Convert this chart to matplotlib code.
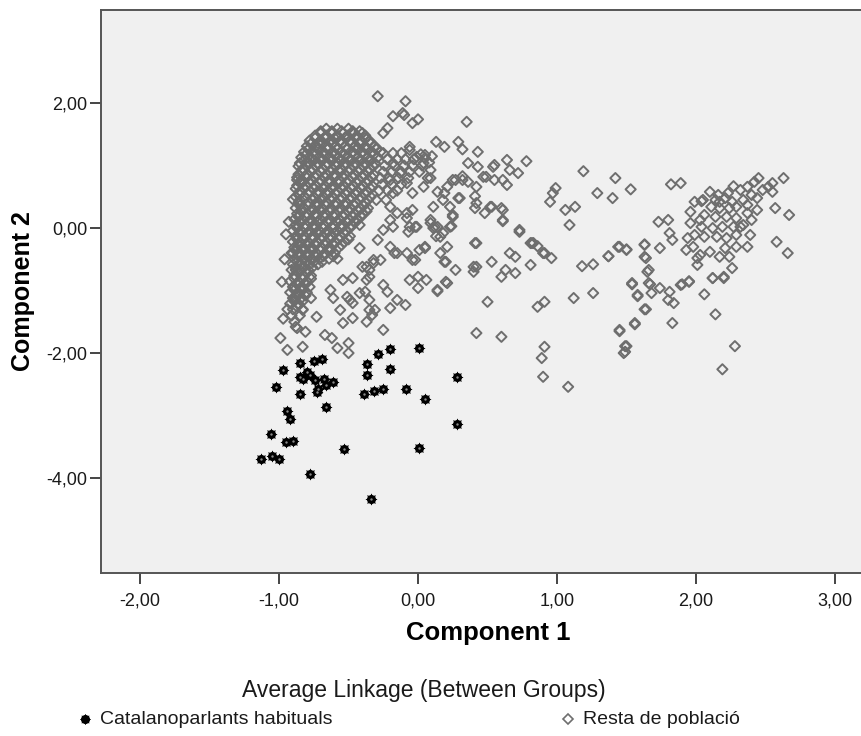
import matplotlib
matplotlib.use("Agg")
import matplotlib.pyplot as plt
from matplotlib.lines import Line2D
from matplotlib.ticker import FuncFormatter, FixedLocator

# cluster 1: habitual Catalan speakers (component 1, component 2)
catalan = [
    (-0.97, -2.27), (-1.02, -2.55), (-0.85, -2.16), (-0.85, -2.38), (-0.85, -2.66),
    (-0.80, -2.31), (-0.75, -2.12), (-0.69, -2.09), (-0.74, -2.43), (-0.68, -2.41),
    (-0.73, -2.62), (-0.66, -2.51), (-0.61, -2.47), (-0.66, -2.87), (-0.94, -2.93),
    (-0.92, -3.06), (-1.06, -3.29), (-0.95, -3.43), (-0.90, -3.41), (-1.13, -3.69),
    (-1.05, -3.64), (-1.00, -3.70), (-0.78, -3.94), (-0.53, -3.54), (-0.34, -4.33),
    (-0.37, -2.18), (-0.37, -2.35), (-0.29, -2.01), (-0.20, -1.93), (-0.20, -2.26),
    (-0.39, -2.66), (-0.32, -2.60), (-0.25, -2.58), (-0.09, -2.57), (0.01, -1.92),
    (0.05, -2.74), (0.28, -2.38), (0.28, -3.14), (0.01, -3.52), (-0.83, -2.41),
    (-0.72, -2.57), (-0.78, -2.35),
]

# cluster 2, dense core: rows of (component 2, [component 1 values])
core_rows = [
    (1.59, [-0.66, -0.58, -0.50]),
    (1.55, [-0.70, -0.62, -0.55, -0.47, -0.42]),
    (1.52, [-0.70, -0.62, -0.54, -0.47, -0.40]),
    (1.48, [-0.74, -0.66, -0.58, -0.51, -0.44, -0.38]),
    (1.44, [-0.74, -0.67, -0.60, -0.52, -0.45, -0.38]),
    (1.40, [-0.78, -0.70, -0.63, -0.56, -0.49, -0.41, -0.35]),
    (1.35, [-0.77, -0.69, -0.62, -0.55, -0.48, -0.42, -0.34]),
    (1.31, [-0.80, -0.73, -0.65, -0.59, -0.52, -0.45, -0.38, -0.31]),
    (1.26, [-0.79, -0.72, -0.65, -0.58, -0.51, -0.44, -0.37, -0.30]),
    (1.22, [-0.82, -0.75, -0.68, -0.61, -0.55, -0.47, -0.40, -0.33, -0.27]),
    (1.17, [-0.81, -0.74, -0.67, -0.60, -0.53, -0.46, -0.39, -0.32]),
    (1.13, [-0.84, -0.77, -0.70, -0.63, -0.57, -0.50, -0.43, -0.36, -0.29]),
    (1.08, [-0.82, -0.75, -0.69, -0.62, -0.55, -0.48, -0.41, -0.34]),
    (1.04, [-0.85, -0.79, -0.72, -0.65, -0.58, -0.52, -0.45, -0.38, -0.31]),
    (0.99, [-0.86, -0.80, -0.73, -0.66, -0.59, -0.53, -0.46, -0.39, -0.32]),
    (0.95, [-0.83, -0.76, -0.69, -0.62, -0.56, -0.49, -0.42, -0.35]),
    (0.90, [-0.83, -0.77, -0.70, -0.63, -0.56, -0.50, -0.43, -0.36]),
    (0.86, [-0.86, -0.80, -0.73, -0.66, -0.60, -0.53, -0.46, -0.39, -0.32]),
    (0.81, [-0.87, -0.80, -0.74, -0.67, -0.60, -0.54, -0.47, -0.40, -0.33]),
    (0.77, [-0.84, -0.77, -0.70, -0.64, -0.57, -0.50, -0.43, -0.36]),
    (0.72, [-0.84, -0.78, -0.71, -0.64, -0.57, -0.51, -0.44, -0.37]),
    (0.68, [-0.87, -0.81, -0.74, -0.67, -0.61, -0.54, -0.47, -0.40, -0.33]),
    (0.63, [-0.88, -0.82, -0.75, -0.68, -0.62, -0.55, -0.48, -0.41, -0.34]),
    (0.59, [-0.85, -0.78, -0.72, -0.65, -0.58, -0.51, -0.44, -0.37]),
    (0.54, [-0.85, -0.79, -0.72, -0.65, -0.59, -0.52, -0.45, -0.38]),
    (0.50, [-0.88, -0.82, -0.75, -0.68, -0.62, -0.55, -0.48, -0.41, -0.34]),
    (0.45, [-0.85, -0.76, -0.70, -0.63, -0.56, -0.49, -0.42, -0.36]),
    (0.41, [-0.86, -0.79, -0.73, -0.66, -0.59, -0.52, -0.45, -0.38]),
    (0.36, [-0.85, -0.79, -0.72, -0.66, -0.59, -0.52, -0.46, -0.39]),
    (0.32, [-0.88, -0.82, -0.76, -0.69, -0.63, -0.56, -0.49, -0.42, -0.36]),
    (0.27, [-0.84, -0.77, -0.70, -0.64, -0.57, -0.50, -0.43, -0.37]),
    (0.23, [-0.87, -0.80, -0.74, -0.67, -0.60, -0.53, -0.46, -0.40]),
    (0.18, [-0.86, -0.80, -0.73, -0.67, -0.60, -0.54, -0.47, -0.41]),
    (0.14, [-0.89, -0.83, -0.77, -0.70, -0.64, -0.57, -0.50, -0.44]),
    (0.09, [-0.85, -0.78, -0.72, -0.65, -0.58, -0.51, -0.45]),
    (0.05, [-0.88, -0.81, -0.75, -0.68, -0.61, -0.55, -0.48, -0.42]),
    (0.00, [-0.87, -0.81, -0.74, -0.68, -0.61, -0.55, -0.49]),
    (-0.04, [-0.90, -0.84, -0.78, -0.71, -0.65, -0.58, -0.52]),
    (-0.09, [-0.85, -0.79, -0.72, -0.66, -0.60, -0.53]),
    (-0.13, [-0.88, -0.82, -0.76, -0.69, -0.63, -0.56, -0.49]),
    (-0.18, [-0.87, -0.82, -0.76, -0.70, -0.63, -0.57, -0.50]),
    (-0.22, [-0.90, -0.85, -0.79, -0.73, -0.66, -0.60, -0.53]),
    (-0.27, [-0.86, -0.80, -0.74, -0.67, -0.61, -0.55]),
    (-0.31, [-0.89, -0.83, -0.77, -0.70, -0.64, -0.57]),
    (-0.36, [-0.88, -0.82, -0.76, -0.70, -0.63]),
    (-0.40, [-0.91, -0.85, -0.79, -0.73, -0.67, -0.60]),
    (-0.45, [-0.86, -0.80, -0.74, -0.68, -0.61]),
    (-0.49, [-0.89, -0.83, -0.77, -0.71, -0.64, -0.58]),
    (-0.54, [-0.87, -0.81, -0.75, -0.69]),
    (-0.58, [-0.90, -0.84, -0.78, -0.72]),
    (-0.63, [-0.88, -0.82, -0.76]),
    (-0.67, [-0.91, -0.85, -0.79]),
    (-0.72, [-0.86, -0.80]),
    (-0.76, [-0.89, -0.83, -0.77]),
    (-0.81, [-0.89, -0.83, -0.77]),
    (-0.85, [-0.92, -0.86, -0.80]),
    (-0.90, [-0.87, -0.81]),
    (-0.94, [-0.90, -0.84, -0.78]),
    (-0.99, [-0.89, -0.83]),
    (-1.03, [-0.92, -0.86, -0.80]),
    (-1.08, [-0.87, -0.81]),
    (-1.12, [-0.90, -0.84, -0.77]),
    (-1.17, [-0.89, -0.83]),
    (-1.21, [-0.92, -0.86]),
    (-1.26, [-0.87]),
    (-1.30, [-0.90, -0.83]),
    (-1.40, [-0.91, -0.85]),
    (-1.50, [-0.89]),
    (-1.60, [-0.87]),
    # spur to the right of the core
    (1.20, [-0.25, -0.18, -0.12]),
    (1.10, [-0.22, -0.15, -0.09, -0.03]),
    (1.00, [-0.24, -0.17, -0.10, -0.04, 0.03]),
    (0.90, [-0.25, -0.19, -0.12, -0.06, 0.01]),
    (0.80, [-0.27, -0.21, -0.14, -0.07]),
    (0.70, [-0.26, -0.19, -0.12]),
    (0.60, [-0.28, -0.22, -0.15]),
    (0.45, [-0.30, -0.23]),
]

# cluster 2, scattered points
rest = [
    # top
    (-0.29, 2.11), (-0.09, 2.03), (-0.18, 1.79), (-0.11, 1.84), (-0.04, 1.68),
    (0.00, 1.74), (-0.10, 1.81), (-0.22, 1.60), (-0.25, 1.52), (0.35, 1.70),
    (0.13, 1.38), (0.19, 1.30), (0.29, 1.38), (0.32, 1.26), (0.43, 1.22),
    (0.36, 1.04), (0.43, 0.98), (0.55, 1.01), (0.64, 1.09), (0.78, 1.07),
    (0.66, 0.93), (0.72, 0.88), (0.49, 0.82), (0.55, 0.77), (0.64, 0.69),
    (-0.06, 1.30), (0.05, 1.17), (0.05, 1.12), (0.08, 1.05), (0.10, 1.15),
    (0.02, 1.18), (-0.72, 1.36), (-0.79, 1.06), (-0.83, 0.74), (-0.87, 0.77),
    (-0.90, 0.46),
    # middle
    (-0.06, 1.25), (-0.01, 1.14), (0.04, 1.04), (0.09, 0.93), (0.07, 0.80),
    (0.04, 0.66), (-0.04, 0.56), (-0.08, 0.72), (-0.13, 0.88), (-0.18, 1.04),
    (-0.20, 0.77), (-0.18, 0.56), (-0.20, 0.34), (-0.15, 0.24), (-0.08, 0.24),
    (-0.06, 0.02), (-0.20, 0.13), (-0.25, -0.03), (-0.29, -0.19), (-0.20, -0.30),
    (-0.15, -0.40), (-0.08, -0.40), (-0.04, -0.51), (0.01, -0.35), (0.09, 0.08),
    (0.12, 0.02), (0.23, 0.02), (0.16, -0.14), (0.21, -0.30), (0.25, 0.18),
    (0.23, 0.34), (0.18, 0.45), (0.14, 0.58), (0.27, 0.77), (0.30, 0.48),
    (0.32, 0.77), (0.42, 0.66), (0.47, 0.82), (0.54, 0.98), (0.61, 0.77),
    (0.42, 0.40), (0.52, 0.34), (0.61, 0.29), (0.61, 0.13), (0.73, -0.03),
    (0.83, -0.24), (0.90, -0.40), (0.42, -0.24), (0.40, -0.62), (0.50, -1.18),
    (0.86, -1.26), (0.09, 0.80), (0.41, 0.32), (0.41, 0.51), (0.29, 0.48),
    (0.25, 0.77), (0.32, 0.83), (0.36, 0.74), (0.21, 0.66), (0.19, 0.56),
    (0.11, 0.34), (0.25, 0.21), (-0.04, 0.29), (-0.08, 0.16), (-0.02, 0.02),
    (0.09, 0.13), (0.14, 0.02), (0.05, -0.30), (0.82, -0.24), (0.61, 0.11),
    (0.60, 0.32), (0.53, 0.34), (0.48, 0.24),
    # between 0.9 and 1.7
    (0.99, 0.64), (0.97, 0.56), (0.95, 0.42), (1.06, 0.29), (1.13, 0.34),
    (1.09, 0.05), (1.19, 0.91), (1.29, 0.56), (1.42, 0.80), (1.53, 0.62),
    (1.40, 0.48), (1.44, -0.30),
    (0.13, -0.13), (0.16, -0.40), (0.20, -0.54), (0.27, -0.67), (0.21, -0.88),
    (0.14, -1.01), (0.41, -0.24), (0.40, -0.70), (0.42, -0.62), (0.53, -0.54),
    (0.66, -0.40), (0.70, -0.46), (0.63, -0.67), (0.60, -0.78), (0.70, -0.72),
    (0.81, -0.59), (0.81, -0.24), (0.86, -0.29), (0.91, -0.40), (0.96, -0.48),
    (0.73, -0.06), (0.91, -1.18), (1.12, -1.12), (1.26, -1.04), (1.18, -0.61),
    (1.26, -0.58), (1.37, -0.45), (1.45, -0.30), (1.50, -0.35), (0.42, -1.68),
    (0.60, -1.74), (0.91, -1.90), (0.89, -2.08), (0.90, -2.38), (1.08, -2.54),
    (1.45, -1.63), (1.56, -1.54), (1.49, -1.89), (1.49, -1.98), (1.54, -0.88),
    (1.58, -1.07), (1.63, -1.30), (1.63, -0.26), (1.64, -0.48), (1.65, -0.70),
    # lower left of the core
    (-0.98, -0.86), (-0.90, -0.40), (-0.88, -0.67), (-0.88, -1.10), (-0.99, -1.76),
    (-0.94, -1.95), (-0.83, -1.90), (-0.88, -1.58), (-0.81, -1.66), (-0.83, -1.31),
    (-0.73, -1.42), (-0.67, -1.71), (-0.62, -1.76), (-0.58, -1.92), (-0.50, -1.84),
    (-0.50, -2.00), (-0.54, -1.52), (-0.47, -1.44), (-0.37, -1.50), (-0.33, -1.39),
    (-0.31, -1.31), (-0.25, -1.63), (-0.38, -1.02), (-0.47, -1.20), (-0.51, -1.10),
    (-0.61, -1.12), (-0.63, -0.99), (-0.54, -0.83), (-0.47, -0.80), (-0.40, -0.62),
    (-0.35, -0.78), (-0.32, -0.56), (-0.27, -0.51), (-0.25, -0.91), (-0.22, -1.02),
    (-0.15, -1.15), (-0.09, -1.23), (-0.20, -1.28), (-0.35, -1.15), (-0.06, -0.83),
    (0.00, -0.78), (0.06, -0.83), (0.00, -0.96), (0.14, -0.99), (0.20, -0.86),
    (0.19, -0.54), (0.05, -0.32), (-0.02, -0.51), (-0.17, -0.40), (-0.18, 0.02),
    (-0.07, -0.06), (-0.01, 0.02), (0.11, 0.00), (0.18, -0.08), (0.24, 0.03),
    (-0.42, -0.32), (-0.35, -0.67), (-0.37, -0.62), (-0.32, -0.51), (-0.37, -0.83),
    (-0.42, -1.04), (-0.49, -1.15), (-0.56, -1.31), (-0.35, -1.31), (-0.95, -0.10),
    (-0.93, 0.10), (-0.96, -0.50), (-0.94, -1.30), (-0.97, -1.45),
    # right-hand group
    (1.82, 0.70), (1.89, 0.72), (2.45, 0.80), (2.63, 0.80), (2.55, 0.72),
    (2.55, 0.58), (2.27, 0.67), (2.57, 0.32), (2.67, 0.21), (2.58, -0.22),
    (2.66, -0.40), (1.99, 0.42), (2.04, 0.43), (1.73, 0.10), (1.80, 0.13),
    (1.81, -0.08), (1.83, -0.19), (1.96, 0.08), (1.94, -0.16), (1.93, -0.35),
    (2.01, -0.59), (2.26, -0.64), (2.12, -0.80), (2.20, -0.78), (1.63, -0.27),
    (1.74, -0.32), (1.63, -0.46), (1.66, -0.67), (1.50, -0.34), (1.37, -0.45),
    (1.54, -0.90), (1.67, -0.90), (1.90, -0.90), (1.95, -0.86),
    (2.10, 0.58), (2.16, 0.53), (2.21, 0.48), (2.32, 0.61), (2.37, 0.66),
    (2.40, 0.53), (2.44, 0.48), (2.34, 0.45), (2.29, 0.34), (2.24, 0.32),
    (2.17, 0.32), (2.11, 0.34), (2.06, 0.21), (2.14, 0.18), (2.22, 0.18),
    (2.29, 0.16), (2.37, 0.24), (2.44, 0.29), (2.40, 0.13), (2.34, 0.05),
    (2.27, 0.02), (2.19, 0.02), (2.12, 0.00), (2.04, 0.02), (1.99, -0.11),
    (2.06, -0.14), (2.15, -0.14), (2.22, -0.16), (2.29, -0.11), (2.39, -0.11),
    (2.37, -0.30), (2.29, -0.30), (2.21, -0.32), (2.10, -0.38), (2.03, -0.43),
    (1.98, -0.30), (2.24, -0.46), (2.17, -0.46), (2.01, -0.48), (2.32, 0.02),
    (2.26, 0.42), (2.17, 0.42), (2.37, 0.37), (2.48, 0.61), (2.42, 0.74),
    (2.52, 0.66), (2.23, 0.56), (2.14, 0.45), (2.05, 0.45), (1.96, 0.26),
    (2.03, 0.13),
    (1.66, -0.88), (1.58, -1.09), (1.68, -1.04), (1.74, -0.96), (1.81, -1.02),
    (1.80, -1.15), (1.84, -1.20), (1.64, -1.30), (1.56, -1.52), (1.45, -1.65),
    (1.50, -1.89), (1.48, -2.00), (1.83, -1.52), (1.89, -0.91), (1.95, -0.85),
    (2.06, -1.06), (2.14, -1.38), (2.12, -0.80), (2.20, -0.80), (2.28, -1.89),
    (2.19, -2.26),
]

rest_x = [x for y, xs in core_rows for x in xs] + [p[0] for p in rest]
rest_y = [y for y, xs in core_rows for x in xs] + [p[1] for p in rest]
cat_x = [p[0] for p in catalan]
cat_y = [p[1] for p in catalan]

x_ticks = [-2, -1, 0, 1, 2, 3]
y_ticks = [-4, -2, 0, 2]

plt.rcParams['font.family'] = ['Liberation Sans', 'DejaVu Sans']

fig = plt.figure(figsize=(8.61, 7.36), dpi=100)
ax = fig.add_axes([101 / 861, 163 / 736, 774 / 861, 563 / 736])
ax.set_facecolor('#f0f0f0')

gray = '#6e6e6e'
ax.scatter(rest_x, rest_y, marker='D', s=27, facecolors='none',
           edgecolors=gray, linewidths=1.4, zorder=2)
# black markers: round body with eight small spikes and a pale centre
ax.scatter(cat_x, cat_y, marker='o', s=42, color='black', linewidths=0, zorder=3)
ax.scatter(cat_x, cat_y, marker=(8, 1, 0), s=64, color='black',
           linewidths=0.4, zorder=3)
ax.scatter(cat_x, cat_y, marker='o', s=3, color='#8a8a8a', linewidths=0, zorder=4)

ax.set_xlim(-2.281, 3.288)
ax.set_ylim(-5.52, 3.49)
ax.xaxis.set_major_locator(FixedLocator(x_ticks))
ax.yaxis.set_major_locator(FixedLocator(y_ticks))
comma = FuncFormatter(lambda v, pos: f"{v:.2f}".replace('.', ','))
ax.xaxis.set_major_formatter(comma)
ax.yaxis.set_major_formatter(comma)
ax.tick_params(direction='out', length=8, width=1.4, color='#444444',
               labelsize=13, labelcolor='#1a1a1a')
ax.tick_params(axis='x', pad=6)
ax.tick_params(axis='y', pad=2)

for side in ['left', 'bottom', 'top']:
    ax.spines[side].set_color('#555555')
    ax.spines[side].set_linewidth(1.4)
ax.spines['right'].set_visible(False)

ax.set_xlabel('Component 1', fontsize=18.5, fontweight='bold', labelpad=8)
ax.set_ylabel('Component 2', fontsize=18, fontweight='bold', labelpad=8)

# legend drawn below the axes
fig.text(424 / 861, 1 - 690 / 736, 'Average Linkage (Between Groups)',
         ha='center', va='center', fontsize=16.5, color='#1a1a1a')
leg_y = 1 - 719 / 736
fig.add_artist(Line2D([85 / 861], [leg_y], marker='o', ms=5.5, color='black',
                      linestyle='none', transform=fig.transFigure))
fig.add_artist(Line2D([85 / 861], [leg_y], marker=(8, 1, 0), ms=7.5,
                      color='black', mew=0.4, linestyle='none',
                      transform=fig.transFigure))
fig.text(100 / 861, leg_y, 'Catalanoparlants habituals',
         ha='left', va='center', fontsize=14, color='#1a1a1a')
fig.add_artist(Line2D([568 / 861], [leg_y], marker='D', ms=4.8,
                      markerfacecolor='none', markeredgecolor=gray, mew=1.2,
                      linestyle='none', transform=fig.transFigure))
fig.text(583 / 861, leg_y, 'Resta de població',
         ha='left', va='center', fontsize=14, color='#1a1a1a')

fig.savefig('out.png', dpi=100)
